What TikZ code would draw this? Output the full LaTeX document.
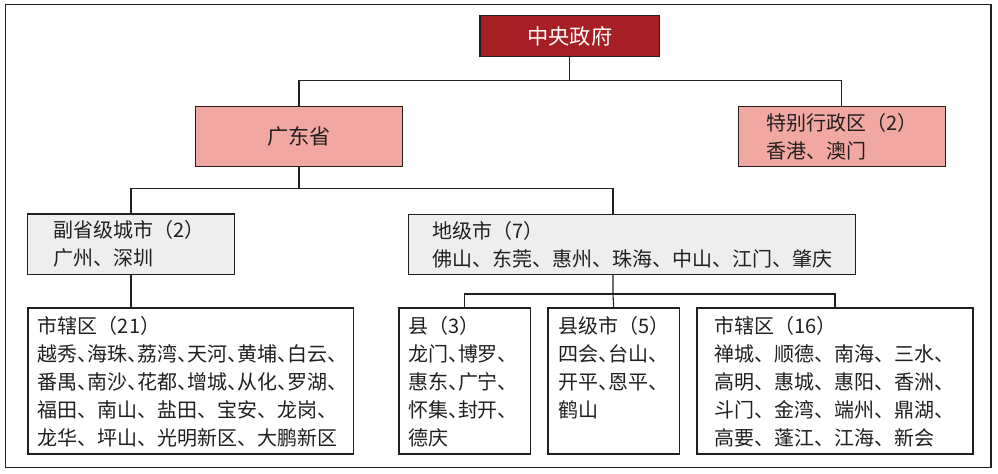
\documentclass[tikz,border=0pt]{standalone}
\usepackage{fontspec}
\setmainfont{Noto Sans CJK SC}
\newfontfamily\haltfont[RawFeature=+halt]{Noto Sans CJK SC}
\usetikzlibrary{positioning}
\definecolor{govred}{RGB}{166,31,36}
\definecolor{provpink}{RGB}{242,168,162}
\definecolor{citygray}{RGB}{237,238,237}
\definecolor{ink}{RGB}{35,31,32}
\tikzset{
  govbox/.style={draw=ink,fill=govred,line width=0.7pt,text=white,minimum width=89.9pt,minimum height=20.7pt,font=\fontsize{10.6pt}{14pt}\selectfont},
  provbox/.style={draw=ink,fill=provpink,line width=0.7pt,text=ink,minimum height=30pt,align=left,font=\fontsize{10pt}{14pt}\selectfont},
  citybox/.style={provbox,fill=citygray},
  distbox/.style={draw=ink,fill=white,line width=0.7pt,text=ink,anchor=north west,inner ysep=4pt,font=\fontsize{10pt}{14pt}\selectfont},
  link/.style={draw=ink,line width=0.55pt},
  frame/.style={draw=ink,line width=0.6pt}
}
\begin{document}
\begin{tikzpicture}[x=0.5pt,y=-0.5pt]
  \useasboundingbox (0,0) rectangle (998,474);
  \draw[frame] (5.3,4.3) rectangle (991,467.7);
  \node[govbox] (zy) at (569.85,36) {中央政府};
  \node[provbox,minimum width=103.7pt,align=center,font=\fontsize{10.6pt}{14pt}\selectfont] (gd) at (299,136.3) {广东省};
  \node[provbox,text width=75.5pt,inner xsep=14pt] (tb) at (841.8,136.3) {特别行政区（2）\\香港、澳门};
  \node[citybox,text width=77.7pt,inner xsep=13pt] (fs) at (131,244.3) {副省级城市（2）\\广州、深圳};
  \node[citybox,text width=199.7pt,inner xsep=12pt] (dj) at (632,244.3) {地级市（7）\\佛山、东莞、惠州、珠海、中山、江门、肇庆};
  \node[distbox,inner xsep=5pt] (sx21) at (27.3,307.3) {\parbox[t][65pt][t]{152.7pt}{市辖区（21）\\
    {\haltfont 越秀、海珠、荔湾、天河、黄埔、白云、}\\
    {\haltfont 番禺、南沙、花都、增城、从化、罗湖、}\\
    福田、南山、盐田、宝安、龙岗、\\
    龙华、坪山、光明新区、大鹏新区}};
  \node[distbox,inner xsep=4.5pt] (x3) at (398.3,307.3) {\parbox[t][65pt][t]{56.7pt}{县（3）\\
    {\haltfont 龙门、博罗、}\\
    {\haltfont 惠东、广宁、}\\
    {\haltfont 怀集、封开、}\\
    德庆}};
  \node[distbox,inner xsep=5pt] (xjs) at (547.3,307.3) {\parbox[t][65pt][t]{55.7pt}{县级市（5）\\
    {\haltfont 四会、台山、}\\
    {\haltfont 开平、恩平、}\\
    鹤山}};
  \node[distbox,inner xsep=8.5pt] (sx16) at (696.3,307.3) {\parbox[t][65pt][t]{121pt}{市辖区（16）\\
    禅城、顺德、南海、三水、\\
    高明、惠城、惠阳、香洲、\\
    斗门、金湾、端州、鼎湖、\\
    高要、蓬江、江海、新会}};
  \coordinate (b1) at (569.85,80.3);
  \coordinate (b2) at (613,188.3);
  \coordinate (b3) at (613,294);
  \draw[link] (zy.south) -- (b1);
  \draw[link] (gd.north) |- (b1) -| (tb.north);
  \draw[link] (gd.south) -- (gd.south |- b2);
  \draw[link] (fs.north) |- (b2) -- (b2 |- dj.north);
  \draw[link] (fs.south) -- (fs.south |- sx21.north);
  \draw[link] (b2 |- dj.south) -- (b3) -- (xjs.north);
  \draw[link] (x3.north) |- (b3) -| (sx16.north);
\end{tikzpicture}
\end{document}
